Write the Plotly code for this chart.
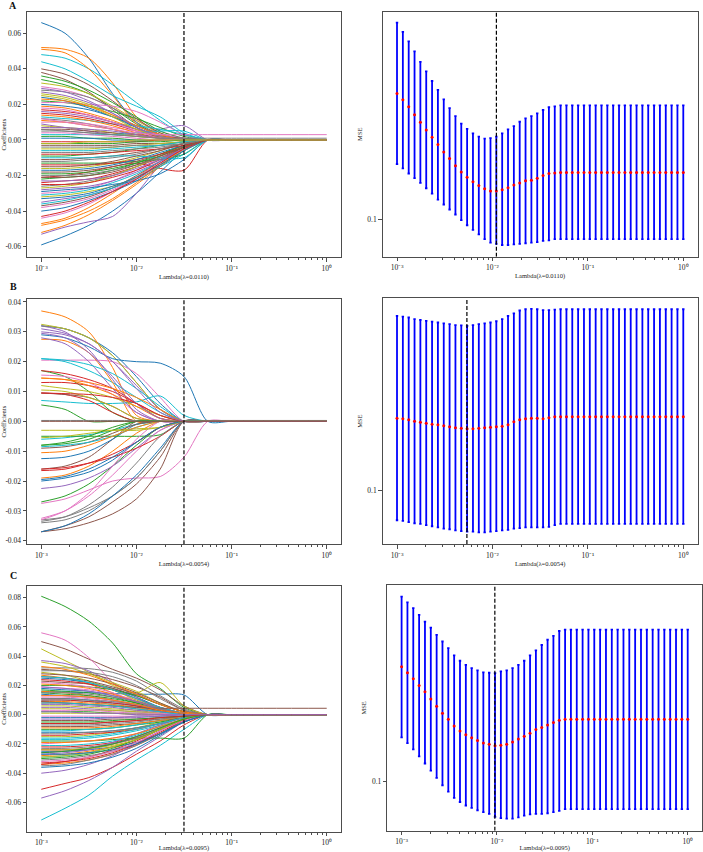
import plotly.graph_objects as go

# ---------------- data ----------------
# lambda grid of the coefficient paths (left panels)
coef_lambda = [0.001, 0.001778, 0.003162, 0.005623, 0.01, 0.01778, 0.03162, 0.05623, 0.1, 1.0]

# coefficient paths, values in units of 1e-3, one row per feature
coef_A = [
    [66, 60, 46, 26, 10, 2, 0, 0, 0, 0],
    [52, 51, 46, 32, 13, 3, 0, 0, 0, 0],
    [34, 31, 26, 18, 9, 3, 0, 0, 0, 0],
    [-21, -20, -18, -15, -13, -16, -17, 0, 0, 0],
    [9, 7, 5, 3, 3, 6, 8, 0, 0, 0],
    [38, 34, 27, 17, 7, 1, 0, 0, 0, 0],
    [30, 28, 24, 18, 11, 5, 1, 0, 0, 0],
    [28, 27, 24, 18, 10, 3, 0, 0, 0, 0],
    [32, 30, 26, 19, 11, 4, 0, 0, 0, 0],
    [48, 46, 40, 31, 21, 11, 3, 0, 0, 0],
    [-59, -54, -48, -40, -30, -18, -6, 0, 0, 0],
    [51, 49, 40, 25, 9, 2, 0, 0, 0, 0],
    [22, 21, 19, 16, 12, 7, 2, 0, 0, 0],
    [-24, -23, -22, -19, -15, -10, -4, 0, 0, 0],
    [-53, -49, -46, -43, -30, -14, -3, 0, 0, 0],
    [40, 37, 31, 22, 12, 4, 0, 0, 0, 0],
    [21, 21, 20, 19, 16, 10, 3, 0, 0, 0],
    [-26, -25, -23, -20, -15, -9, -3, 0, 0, 0],
    [26, 24, 20, 14, 7, 2, 0, 0, 0, 0],
    [44, 40, 33, 25, 19, 13, 4, 0, 0, 0],
    [20, 19, 17, 13, 8, 3, 0, 0, 0, 0],
    [-47, -44, -38, -30, -21, -12, -4, 0, 0, 0],
    [36, 33, 28, 21, 13, 5, 1, 0, 0, 0],
    [17, 16, 14, 10, 6, 2, 0, 0, 0, 0],
    [-35, -33, -31, -27, -21, -13, -5, 0, 0, 0],
    [-37, -35, -32, -27, -20, -12, -4, 0, 0, 0],
    [-30, -29, -27, -23, -17, -10, -3, 0, 0, 0],
    [12, 11, 9, 6, 3, 1, 0, 0, 0, 0],
    [-27, -26, -24, -20, -15, -9, -3, 0, 0, 0],
    [13, 12, 11, 9, 8, 6, 3, 0, 0, 0],
    [-40, -38, -34, -29, -23, -15, -6, 0, 0, 0],
    [-52, -48, -42, -34, -25, -15, -5, 0, 0, 0],
    [-13, -13, -13, -13, -12, -11, -8, 0, 0, 0],
    [15, 14, 12, 9, 5, 2, 0, 0, 0, 0],
    [27, 25, 21, 15, 8, 3, 0, 0, 0, 0],
    [-18, -18, -17, -15, -12, -8, -3, 0, 0, 0],
    [-44, -41, -36, -29, -21, -13, -5, 0, 0, 0],
    [5, 5, 4, 3, 2, 1, 0, 0, 0, 0],
    [-16, -16, -15, -13, -10, -6, -2, 0, 0, 0],
    [-36, -34, -31, -27, -22, -15, -8, 0, 0, 0],
    [24, 22, 18, 13, 7, 2, 0, 0, 0, 0],
    [19, 18, 15, 11, 6, 2, 0, 0, 0, 0],
    [-22, -21, -20, -17, -13, -8, -3, 0, 0, 0],
    [-25, -25, -24, -21, -17, -11, -4, 0, 0, 0],
    [16, 15, 13, 10, 6, 3, 1, 0, 0, 0],
    [-11, -11, -10, -9, -7, -5, -2, 0, 0, 0],
    [10, 10, 9, 7, 5, 3, 1, 0, 0, 0],
    [-20, -20, -19, -17, -14, -10, -5, 0, 0, 0],
    [8, 7, 6, 4, 2, 1, 0, 0, 0, 0],
    [-31, -30, -28, -24, -19, -12, -5, 0, 0, 0],
    [-29, -28, -27, -25, -23, -19, -11, 0, 0, 0],
    [14, 13, 11, 8, 4, 1, 0, 0, 0, 0],
    [-9, -9, -8, -7, -5, -3, -1, 0, 0, 0],
    [-14, -14, -14, -13, -11, -8, -4, 0, 0, 0],
    [-23, -23, -22, -20, -16, -11, -5, 0, 0, 0],
    [6, 6, 5, 4, 3, 2, 1, 0, 0, 0],
    [-38, -36, -33, -28, -22, -14, -6, 0, 0, 0],
    [-7, -7, -7, -6, -5, -4, -2, 0, 0, 0],
    [-32, -31, -29, -26, -21, -14, -6, 0, 0, 0],
    [3, 3, 3, 3, 4, 5, 5, 0, 0, 0],
    [-17, -17, -16, -14, -11, -7, -3, 0, 0, 0],
    [-48, -45, -40, -33, -24, -14, -5, 0, 0, 0],
    [2, 2, 1, 1, 0, 0, 0, 0, 0, 0],
    [-8, -8, -8, -7, -6, -5, -3, 0, 0, 0],
    [-28, -27, -26, -23, -18, -12, -5, 0, 0, 0],
    [-3, -3, -3, -3, -2, -2, -1, 0, 0, 0],
    [18, 17, 14, 10, 5, 1, 0, 0, 0, 0],
    [-12, -12, -11, -10, -8, -5, -2, 0, 0, 0],
    [-5, -5, -5, -4, -3, -2, -1, 0, 0, 0],
    [-10, -10, -10, -9, -9, -10, -10, 0, 0, 0],
    [1, 1, 1, 0, 0, 0, 0, 0, 0, 0],
    [11, 10, 8, 6, 3, 1, 0, 0, 0, 0],
    [-19, -19, -18, -16, -13, -9, -4, 0, 0, 0],
    [-1, -1, -1, -1, -1, 0, 0, 0, 0, 0],
    [7, 7, 6, 5, 3, 1, 0, 0, 0, 0],
    [-15, -15, -14, -12, -9, -6, -2, 0, 0, 0],
    [4, 4, 3, 2, 1, 0, 0, 0, 0, 0],
    [-4, -4, -4, -4, -3, -3, -2, 0, 0, 0],
    [25, 23, 19, 13, 6, 2, 0, 0, 0, 0],
    [-6, -6, -6, -5, -4, -3, -1, 0, 0, 0],
    [-33, -32, -30, -26, -21, -14, -6, 0, 0, 0],
    [23, 22, 19, 14, 8, 3, 0, 0, 0, 0],
    [-2, -2, -2, -2, -1, -1, 0, 0, 0, 0],
    [-43, -40, -35, -29, -22, -13, -5, 0, 0, 0],
    [29, 27, 22, 15, 7, 2, 0, 0, 0, 0],
    [-21, -21, -20, -18, -14, -9, -4, 0, 0, 0],
    [12, 10, 8, 6, 4, 3, 3, 3, 3, 3],
    [6, 5, 4, 3, 2, 1, 1, 1, 1, 1],
    [-2, -2, -1, -1, 0, 0, 0, 0, 0, 0],
]

coef_B = [
    [32, 31, 28, 23, 15, 6, 0, 0, 0, 0],
    [37, 35, 30, 18, 2, 0, 0, 0, 0, 0],
    [17, 15, 10, 3, 0, 0, 0, 0, 0, 0],
    [17, 16, 14, 11, 6, 1, 0, 0, 0, 0],
    [32, 30, 24, 14, 4, 0, 0, 0, 0, 0],
    [-37, -35, -32, -27, -21, -12, 0, 0, 0, 0],
    [20.5, 20.5, 20.5, 20, 16, 8, 0, 0, 0, 0],
    [32, 31, 28, 22, 13, 4, 0, 0, 0, 0],
    [32.5, 31, 28, 22, 13, 4, 0, 0, 0, 0],
    [21, 20, 17, 13, 8, 3, 0, 0, 0, 0],
    [29, 28, 25, 21, 20, 19.5, 15, 0, 0, 0],
    [27.5, 27, 23, 13, 0, 0, 0, 0, 0, 0],
    [5.5, 4, 0, 0, 0, 0, 0, 0, 0, 0],
    [13, 13, 12, 10, 6, 2, 0, 0, 0, 0],
    [30, 29, 26, 20, 12, 4, 0, 0, 0, 0],
    [-16, -15, -12, -6, 0, 0, 0, 0, 0, 0],
    [15.5, 15, 13, 9, 3, 0, 0, 0, 0, 0],
    [-33, -32, -29, -25, -19, -10, 0, 0, 0, 0],
    [12, 11, 10, 8, 5, 2, 0, 0, 0, 0],
    [7, 6.5, 6, 6, 6.5, 8.5, 2, 0, 0, 0],
    [-12.5, -12, -10, -6, -1, 0, 0, 0, 0, 0],
    [14.5, 14, 12, 9, 5, 1, 0, 0, 0, 0],
    [-27, -25, -21, -15, -8, -2, 0, 0, 0, 0],
    [9.5, 9, 7, 3, 0, 0, 0, 0, 0, 0],
    [-22.5, -21.5, -19, -15, -9, -3, 0, 0, 0, 0],
    [9.5, 9, 8, 5, 1, 0, 0, 0, 0, 0],
    [-27.5, -26, -23, -20, -19, -18.5, -12, 0, 0, 0],
    [-34, -33, -30, -25, -19, -10, 0, 0, 0, 0],
    [10.5, 10, 8, 5, 1, 0, 0, 0, 0, 0],
    [-6, -5.5, -4.5, -3, -1, 0, 0, 0, 0, 0],
    [-20, -19, -17, -13, -7, -2, 0, 0, 0, 0],
    [-19, -18, -15, -10, -4, 0, 0, 0, 0, 0],
    [-5, -5, -5, -5, -5, -4.5, 0, 0, 0, 0],
    [-16.5, -16, -14, -11, -7, -2, 0, 0, 0, 0],
    [28, 26, 20, 11, 3, 0, 0, 0, 0, 0],
    [-37, -36, -34, -31, -26, -16, 0, 0, 0, 0],
    [-32.5, -30, -25, -18, -10, -3, 0, 0, 0, 0],
    [0.3, 0.3, 0.3, 0.3, 0.3, 0.3, 0.3, 0.3, 0.3, 0.3],
    [-5.5, -5, -4, -3, -2.5, -2, 0, 0, 0, 0],
    [21, 20.5, 19, 16, 11, 5, 0, 0, 0, 0],
    [-37, -35, -31, -25, -18, -9, 0, 0, 0, 0],
    [14.5, 14, 13, 11, 8, 4, 0, 0, 0, 0],
    [-8, -7.5, -6, -3, 0, 0, 0, 0, 0, 0],
    [-16, -15.5, -14, -12, -9, -5, 0, 0, 0, 0],
    [29.5, 28, 23, 15, 6, 1, 0, 0, 0, 0],
    [-9, -8.5, -7, -4, -1, 0, 0, 0, 0, 0],
    [-33, -30, -24, -15, -6, 0, 0, 0, 0, 0],
    [-33.5, -32, -28, -22, -14, -5, 0, 0, 0, 0],
    [-3, -3, -3, -3, -3, -2, 0, 0, 0, 0],
    [-8.5, -8, -7, -5, -2, 0, 0, 0, 0, 0],
    [-19.5, -18.5, -16, -12, -7, -2, 0, 0, 0, 0],
    [-10.5, -10, -8, -5, -2, 0, 0, 0, 0, 0],
    [-8, -7, -5, -2, 0, 0, 0, 0, 0, 0],
    [9.5, 9.3, 9, 8, 6, 2, 0, 0, 0, 0],
    [31, 29.5, 26, 20, 11, 3, 0, 0, 0, 0],
    [0, 0, 0, 0, 0, 0, 0, 0, 0, 0],
]

coef_C = [
    [16, 15.5, 15, 14.5, 14, 14, 13.5, 0, 0, 0],
    [27, 25, 21, 15, 8, 2, 0, 0, 0, 0],
    [81, 74, 64, 49, 28, 18, 5, 0, 0, 0],
    [-51, -47, -43, -36, -27, -18, -7, 0, 0, 0],
    [-57, -52, -45, -36, -25, -15, -5, 0, 0, 0],
    [50, 45, 38, 31, 25, 17, 6, 0, 0, 0],
    [56, 51, 39, 22, 8, 2, 0, 0, 0, 0],
    [32, 32, 31.5, 29, 23, 13, 4, 0, 0, 0],
    [45, 37, 29, 20, 15, 22, 6, 0, 0, 0],
    [-72, -64, -55, -42, -31, -21, -10, 0, 0, 0],
    [25, 24, 22, 18, 12, 5, 0, 0, 0, 0],
    [-34, -33, -31, -27, -21, -13, -4, 0, 0, 0],
    [-18, -18, -18, -17, -16, -16, -16, 0, 0, 0],
    [-34, -32, -29, -24, -18, -10, -3, 0, 0, 0],
    [37, 35, 30, 22, 12, 4, 0, 0, 0, 0],
    [23, 22, 21, 18, 13, 7, 2, 0, 0, 0],
    [19, 18, 17, 14, 10, 5, 1, 0, 0, 0],
    [-35, -34, -31, -27, -21, -13, -4, 0, 0, 0],
    [29, 27, 23, 17, 10, 4, 0, 0, 0, 0],
    [-29, -28, -26, -22, -17, -10, -3, 0, 0, 0],
    [-25, -25, -24, -22, -19, -13, -5, 0, 0, 0],
    [16, 15, 13, 10, 6, 2, 0, 0, 0, 0],
    [20, 20, 19, 17, 13, 7, 2, 0, 0, 0],
    [-22, -22, -21, -19, -15, -9, -3, 0, 0, 0],
    [-40, -38, -34, -28, -20, -11, -3, 0, 0, 0],
    [31, 30, 28, 24, 19, 12, 3, 0, 0, 0],
    [12, 12, 11, 9, 6, 3, 1, 0, 0, 0],
    [-31, -30, -28, -25, -20, -13, -5, 0, 0, 0],
    [36, 33, 28, 22, 16, 8, 2, 0, 0, 0],
    [-17, -17, -16, -14, -11, -7, -2, 0, 0, 0],
    [14, 13, 12, 10, 7, 3, 1, 0, 0, 0],
    [-28, -27, -25, -22, -17, -10, -3, 0, 0, 0],
    [17, 16, 15, 12, 8, 4, 1, 0, 0, 0],
    [-24, -24, -23, -20, -16, -10, -4, 0, 0, 0],
    [-27, -26, -24, -20, -15, -9, -3, 0, 0, 0],
    [26, 25, 23, 19, 14, 7, 2, 0, 0, 0],
    [-20, -19, -18, -16, -13, -8, -3, 0, 0, 0],
    [30, 30, 29, 26, 20, 11, 3, 0, 0, 0],
    [-15, -15, -14, -12, -9, -5, -1, 0, 0, 0],
    [10, 10, 9, 7, 5, 3, 1, 0, 0, 0],
    [-12, -12, -12, -11, -9, -6, -2, 0, 0, 0],
    [9, 9, 8, 7, 5, 2, 0, 0, 0, 0],
    [-10, -10, -10, -9, -7, -5, -2, 0, 0, 0],
    [8, 8, 7, 6, 4, 2, 0, 0, 0, 0],
    [-26, -25, -23, -19, -13, -7, -2, 0, 0, 0],
    [-8, -8, -8, -7, -6, -4, -2, 0, 0, 0],
    [22, 21, 19, 15, 9, 4, 1, 0, 0, 0],
    [-23, -23, -22, -20, -16, -10, -4, 0, 0, 0],
    [6, 6, 5, 4, 3, 1, 0, 0, 0, 0],
    [-21, -21, -20, -18, -14, -8, -3, 0, 0, 0],
    [11, 11, 10, 8, 6, 3, 1, 0, 0, 0],
    [-19, -19, -18, -16, -13, -8, -3, 0, 0, 0],
    [15, 14, 13, 11, 8, 4, 1, 0, 0, 0],
    [-14, -14, -13, -12, -10, -6, -2, 0, 0, 0],
    [5, 5, 4, 3, 2, 1, 0, 0, 0, 0],
    [-6, -6, -6, -5, -4, -3, -1, 0, 0, 0],
    [13, 13, 12, 10, 7, 4, 1, 0, 0, 0],
    [-13, -13, -12, -11, -9, -6, -2, 0, 0, 0],
    [4, 4, 3, 3, 2, 1, 0, 0, 0, 0],
    [-11, -11, -10, -9, -7, -4, -1, 0, 0, 0],
    [18, 17, 16, 13, 9, 4, 1, 0, 0, 0],
    [-9, -9, -9, -8, -6, -4, -1, 0, 0, 0],
    [2, 2, 2, 1, 1, 0, 0, 0, 0, 0],
    [-33, -32, -30, -26, -20, -12, -4, 0, 0, 0],
    [7, 7, 6, 5, 3, 2, 0, 0, 0, 0],
    [-4, -4, -4, -3, -3, -2, -1, 0, 0, 0],
    [3, 3, 3, 2, 1, 1, 0, 0, 0, 0],
    [-7, -7, -7, -6, -5, -3, -1, 0, 0, 0],
    [1, 1, 1, 1, 0, 0, 0, 0, 0, 0],
    [-16, -16, -15, -13, -10, -6, -2, 0, 0, 0],
    [-2, -2, -2, -2, -1, -1, 0, 0, 0, 0],
    [21, 20, 18, 14, 9, 4, 1, 0, 0, 0],
    [-5, -5, -5, -4, -3, -2, -1, 0, 0, 0],
    [24, 23, 21, 17, 11, 5, 1, 0, 0, 0],
    [-3, -3, -3, -2, -2, -1, 0, 0, 0, 0],
    [28, 27, 25, 21, 15, 8, 2, 0, 0, 0],
    [-1, -1, -1, -1, -1, 0, 0, 0, 0, 0],
    [15, 15, 14, 12, 9, 5, 1, 0, 0, 0],
    [-29, -28, -26, -22, -17, -10, -3, 0, 0, 0],
    [26, 25, 22, 17, 11, 5, 1, 0, 0, 0],
    [-27, -27, -26, -24, -20, -13, -5, 0, 0, 0],
    [33, 31, 27, 21, 14, 7, 2, 0, 0, 0],
    [-30, -29, -27, -23, -17, -10, -3, 0, 0, 0],
    [10, 10, 9, 8, 6, 3, 1, 0, 0, 0],
    [19, 18, 16, 13, 9, 4, 1, 0, 0, 0],
    [9, 8, 7, 6, 5, 4.4, 4.4, 4.4, 4.4, 4.4],
    [-32, -31, -29, -25, -19, -11, -4, 0, 0, 0],
    [11, 11, 10, 9, 7, 4, 1, 0, 0, 0],
    [-24, -24, -23, -21, -17, -10, -3, 0, 0, 0],
    [8, 8, 7, 6, 4, 2, 0, 0, 0, 0],
    [-36, -35, -33, -29, -23, -14, -5, 0, 0, 0],
    [13, 13, 12, 10, 7, 3, 1, 0, 0, 0],
    [-26, -25, -23, -20, -15, -9, -3, 0, 0, 0],
    [-6, -6, -6, -5, -4, -2, -1, 0, 0, 0],
    [2, 2, 1, 1, 0, 0, 0, 0, 0, 0],
]

# cross-validation lambda grid (right panels)
cv_lambda = [0.001, 0.0011514, 0.0013257, 0.0015264, 0.0017575, 0.0020236, 0.0023300,
             0.0026827, 0.0030888, 0.0035565, 0.0040949, 0.0047149, 0.0054287, 0.0062506,
             0.0071969, 0.0082864, 0.0095410, 0.010985, 0.012649, 0.014563, 0.016768,
             0.019307, 0.022230, 0.025595, 0.029471, 0.033932, 0.039069, 0.044984,
             0.051795, 0.059636, 0.068665, 0.079060, 0.091030, 0.10481, 0.12068, 0.13895,
             0.15999, 0.18421, 0.21210, 0.24421, 0.28118, 0.32375, 0.37276, 0.42919,
             0.49417, 0.56899, 0.65513, 0.75431, 0.86851, 1.0]

mse_A = [0.1249, 0.1235, 0.1220, 0.1203, 0.1187, 0.1171, 0.1156, 0.1141, 0.1126, 0.1113,
         0.1099, 0.1087, 0.1077, 0.1068, 0.1061, 0.1055, 0.1051, 0.1051, 0.1053, 0.1057,
         0.1062, 0.1066, 0.1070, 0.1071, 0.1075, 0.1080, 0.1084, 0.1085, 0.1086, 0.1086,
         0.1086, 0.1086, 0.1086, 0.1086, 0.1086, 0.1086, 0.1086, 0.1086, 0.1086, 0.1086,
         0.1086, 0.1086, 0.1086, 0.1086, 0.1086, 0.1086, 0.1086, 0.1086, 0.1086, 0.1086]
mse_A_upper = [0.1416, 0.1393, 0.1370, 0.1346, 0.1321, 0.1299, 0.1277, 0.1257, 0.1236, 0.1217,
               0.1200, 0.1184, 0.1173, 0.1164, 0.1157, 0.1153, 0.1154, 0.1157, 0.1164, 0.1172,
               0.1179, 0.1188, 0.1195, 0.1200, 0.1206, 0.1213, 0.1219, 0.1221, 0.1223, 0.1223,
               0.1223, 0.1223, 0.1223, 0.1223, 0.1223, 0.1223, 0.1223, 0.1223, 0.1223, 0.1223,
               0.1223, 0.1223, 0.1223, 0.1223, 0.1223, 0.1223, 0.1223, 0.1223, 0.1223, 0.1223]
mse_A_lower = [0.1102, 0.1094, 0.1084, 0.1075, 0.1066, 0.1056, 0.1046, 0.1035, 0.1026, 0.1017,
               0.1008, 0.0998, 0.0989, 0.0981, 0.0973, 0.0965, 0.0959, 0.0957, 0.0955, 0.0955,
               0.0956, 0.0957, 0.0958, 0.0959, 0.0960, 0.0962, 0.0963, 0.0965, 0.0965, 0.0965,
               0.0965, 0.0965, 0.0965, 0.0965, 0.0965, 0.0965, 0.0965, 0.0965, 0.0965, 0.0965,
               0.0965, 0.0965, 0.0965, 0.0965, 0.0965, 0.0965, 0.0965, 0.0965, 0.0965, 0.0965]

mse_B = [0.1137, 0.1136, 0.1134, 0.1131, 0.1129, 0.1127, 0.1125, 0.1124, 0.1122, 0.1120,
         0.1118, 0.1117, 0.1116, 0.1116, 0.1117, 0.1118, 0.1119, 0.1120, 0.1121, 0.1124,
         0.1130, 0.1134, 0.1136, 0.1137, 0.1137, 0.1136, 0.1138, 0.1140, 0.1140, 0.1140,
         0.1140, 0.1140, 0.1140, 0.1140, 0.1140, 0.1140, 0.1140, 0.1140, 0.1140, 0.1140,
         0.1140, 0.1140, 0.1140, 0.1140, 0.1140, 0.1140, 0.1140, 0.1140, 0.1140, 0.1140]
mse_B_upper = [0.1363, 0.1361, 0.1359, 0.1355, 0.1353, 0.1351, 0.1349, 0.1347, 0.1345, 0.1343,
               0.1341, 0.1340, 0.1339, 0.1341, 0.1343, 0.1345, 0.1347, 0.1350, 0.1355, 0.1363,
               0.1369, 0.1376, 0.1379, 0.1380, 0.1379, 0.1377, 0.1377, 0.1378, 0.1379, 0.1379,
               0.1379, 0.1379, 0.1379, 0.1379, 0.1379, 0.1379, 0.1379, 0.1379, 0.1379, 0.1379,
               0.1379, 0.1379, 0.1379, 0.1379, 0.1379, 0.1379, 0.1379, 0.1379, 0.1379, 0.1379]
mse_B_lower = [0.0949, 0.0948, 0.0946, 0.0944, 0.0943, 0.0941, 0.0939, 0.0937, 0.0935, 0.0934,
               0.0932, 0.0931, 0.0930, 0.0930, 0.0929, 0.0929, 0.0930, 0.0931, 0.0932, 0.0933,
               0.0935, 0.0936, 0.0937, 0.0937, 0.0937, 0.0937, 0.0938, 0.0941, 0.0943, 0.0943,
               0.0943, 0.0943, 0.0943, 0.0943, 0.0943, 0.0943, 0.0943, 0.0943, 0.0943, 0.0943,
               0.0943, 0.0943, 0.0943, 0.0943, 0.0943, 0.0943, 0.0943, 0.0943, 0.0943, 0.0943]

mse_C = [0.1225, 0.1212, 0.1199, 0.1185, 0.1172, 0.1157, 0.1142, 0.1128, 0.1116, 0.1103,
         0.1093, 0.1086, 0.1080, 0.1075, 0.1070, 0.1068, 0.1065, 0.1066, 0.1068, 0.1072,
         0.1078, 0.1083, 0.1089, 0.1096, 0.1100, 0.1105, 0.1110, 0.1114, 0.1116, 0.1116,
         0.1116, 0.1116, 0.1116, 0.1116, 0.1116, 0.1116, 0.1116, 0.1116, 0.1116, 0.1116,
         0.1116, 0.1116, 0.1116, 0.1116, 0.1116, 0.1116, 0.1116, 0.1116, 0.1116, 0.1116]
mse_C_upper = [0.1387, 0.1373, 0.1359, 0.1343, 0.1327, 0.1313, 0.1296, 0.1281, 0.1266, 0.1250,
               0.1238, 0.1229, 0.1222, 0.1217, 0.1213, 0.1212, 0.1211, 0.1215, 0.1217, 0.1222,
               0.1229, 0.1238, 0.1250, 0.1261, 0.1273, 0.1285, 0.1294, 0.1305, 0.1308, 0.1308,
               0.1308, 0.1308, 0.1308, 0.1308, 0.1308, 0.1308, 0.1308, 0.1308, 0.1308, 0.1308,
               0.1308, 0.1308, 0.1308, 0.1308, 0.1308, 0.1308, 0.1308, 0.1308, 0.1308, 0.1308]
mse_C_lower = [0.1081, 0.1070, 0.1058, 0.1045, 0.1032, 0.1019, 0.1006, 0.0993, 0.0982, 0.0971,
               0.0964, 0.0958, 0.0954, 0.0950, 0.0947, 0.0944, 0.0939, 0.0937, 0.0936, 0.0936,
               0.0938, 0.0941, 0.0943, 0.0944, 0.0944, 0.0945, 0.0947, 0.0949, 0.0952, 0.0952,
               0.0952, 0.0952, 0.0952, 0.0952, 0.0952, 0.0952, 0.0952, 0.0952, 0.0952, 0.0952,
               0.0952, 0.0952, 0.0952, 0.0952, 0.0952, 0.0952, 0.0952, 0.0952, 0.0952, 0.0952]

best_lambda = [0.0110, 0.0054, 0.0095]       # chosen lambda (right panels & labels)
best_lambda_text = ["0.0110", "0.0054", "0.0095"]
coef_cut_lambda = [0.0316, 0.0316, 0.0316]   # dashed line position in left panels
panel_letters = ["A", "B", "C"]

coef_ticks = [
    [-0.06, -0.04, -0.02, 0.0, 0.02, 0.04, 0.06],
    [-0.04, -0.03, -0.02, -0.01, 0.0, 0.01, 0.02, 0.03, 0.04],
    [-0.06, -0.04, -0.02, 0.0, 0.02, 0.04, 0.06, 0.08],
]
coef_tick_text = [
    ["-0.06", "-0.04", "-0.02", "0.00", "0.02", "0.04", "0.06"],
    ["-0.04", "-0.03", "-0.02", "-0.01", "0.00", "0.01", "0.02", "0.03", "0.04"],
    ["-0.06", "-0.04", "-0.02", "0.00", "0.02", "0.04", "0.06", "0.08"],
]
x_tick_vals = [0.001, 0.01, 0.1, 1]
x_tick_text = ["10\u207b\u00b3", "10\u207b\u00b2", "10\u207b\u00b9", "10\u2070"]

# ---------------- layout geometry (pixels) ----------------
W, H = 703, 852
TAB10 = ['#1f77b4', '#ff7f0e', '#2ca02c', '#d62728', '#9467bd',
         '#8c564b', '#e377c2', '#7f7f7f', '#bcbd22', '#17becf']
FONT = "Liberation Serif"
AXC = "#4d4d4d"

# (left, right, top, bottom) in pixels
left_boxes = [(27, 341, 12.3, 257), (27, 341, 299, 544.3), (27, 341, 586, 831.7)]
right_boxes = [(382.7, 697.6, 11.7, 256.7), (382.7, 697.6, 298.3, 544), (387.3, 702, 585, 830.7)]
left_yrange = [[-0.0658, 0.0718], [-0.0412, 0.0410], [-0.0800, 0.0880]]
right_yrange = [[-1.0290, -0.8405], [-1.0410, -0.8520], [-1.0380, -0.8490]]
letter_y = [5, 286, 575]

coefs = [coef_A, coef_B, coef_C]
mses = [(mse_A, mse_A_upper, mse_A_lower), (mse_B, mse_B_upper, mse_B_lower),
        (mse_C, mse_C_upper, mse_C_lower)]

for arr in coefs:
    for row in arr:
        assert len(row) == len(coef_lambda), row
for trip in mses:
    for a in trip:
        assert len(a) == len(cv_lambda), len(a)

minor_x = [m * 10.0 ** e for e in (-3, -2, -1) for m in range(2, 10)]

fig = go.Figure()
layout = {}


def dom_x(l, r):
    return [l / W, r / W]


def dom_y(t, b):
    return [1 - b / H, 1 - t / H]


def axis_common():
    return dict(showline=True, mirror=True, linecolor=AXC, linewidth=1,
                ticks="outside", ticklen=3.5, tickwidth=1, tickcolor=AXC,
                showgrid=False, zeroline=False, automargin=False,
                tickfont=dict(family=FONT, size=7.5, color="#222"))


def x_axis(l, r, ya, p):
    xd = axis_common()
    xd.update(domain=dom_x(l, r), anchor=ya, type="log", range=[-3.15, 0.15],
              tickmode="array", tickvals=x_tick_vals, ticktext=x_tick_text,
              tickfont=dict(family=FONT, size=7.5, color="#222"),
              minor=dict(tickmode="array", tickvals=minor_x, ticks="outside",
                         ticklen=2, tickcolor=AXC, showgrid=False),
              title=dict(text=f"Lambda(λ={best_lambda_text[p]})",
                         font=dict(family=FONT, size=6.5, color="#222"), standoff=2))
    return xd


for p in range(3):
    # ----- left: coefficient paths -----
    ax = 2 * p + 1
    xa, ya = f"x{ax}", f"y{ax}"
    for i, row in enumerate(coefs[p]):
        fig.add_trace(go.Scatter(
            x=coef_lambda, y=[v / 1000 for v in row], mode="lines",
            line=dict(color=TAB10[i % 10], width=1, shape="spline", smoothing=0.8),
            xaxis=xa, yaxis=ya, showlegend=False, hoverinfo="skip"))
    fig.add_trace(go.Scatter(
        x=[coef_cut_lambda[p], coef_cut_lambda[p]], y=left_yrange[p], mode="lines",
        line=dict(color="black", width=1.2, dash="4px,2px"),
        xaxis=xa, yaxis=ya, showlegend=False, hoverinfo="skip"))
    l, r, t, b = left_boxes[p]
    yd = axis_common()
    yd.update(domain=dom_y(t, b), anchor=xa, range=left_yrange[p],
              tickmode="array", tickvals=coef_ticks[p], ticktext=coef_tick_text[p],
              title=dict(text="Coefficients", font=dict(family=FONT, size=6.5, color="#222"),
                         standoff=2))
    layout["xaxis" if ax == 1 else f"xaxis{ax}"] = x_axis(l, r, ya, p)
    layout["yaxis" if ax == 1 else f"yaxis{ax}"] = yd

    # ----- right: CV MSE with error bars -----
    ax = 2 * p + 2
    xa, ya = f"x{ax}", f"y{ax}"
    m, up, lo = mses[p]
    fig.add_trace(go.Scatter(
        x=cv_lambda, y=m, mode="markers",
        marker=dict(color="red", size=3),
        error_y=dict(type="data", symmetric=False,
                     array=[u - v for u, v in zip(up, m)],
                     arrayminus=[v - w for v, w in zip(m, lo)],
                     color="#0000ff", thickness=1.8, width=1.2),
        xaxis=xa, yaxis=ya, showlegend=False, hoverinfo="skip"))
    fig.add_trace(go.Scatter(
        x=[best_lambda[p], best_lambda[p]],
        y=[10 ** right_yrange[p][0], 10 ** right_yrange[p][1]], mode="lines",
        line=dict(color="black", width=1.2, dash="4px,2px"),
        xaxis=xa, yaxis=ya, showlegend=False, hoverinfo="skip"))
    l, r, t, b = right_boxes[p]
    yd = axis_common()
    yd.update(domain=dom_y(t, b), anchor=xa, type="log", range=right_yrange[p],
              tickmode="array", tickvals=[0.1], ticktext=["0.1"],
              title=dict(text="MSE", font=dict(family=FONT, size=6.5, color="#222"),
                         standoff=4))
    layout[f"xaxis{ax}"] = x_axis(l, r, ya, p)
    layout[f"yaxis{ax}"] = yd

annotations = []
for p in range(3):
    annotations.append(dict(text=f"<b>{panel_letters[p]}</b>", x=13 / W, y=1 - letter_y[p] / H,
                            xref="paper", yref="paper", xanchor="center", yanchor="middle",
                            showarrow=False, font=dict(family=FONT, size=10, color="#111")))

fig.update_layout(width=W, height=H, margin=dict(l=0, r=0, t=0, b=0),
                  paper_bgcolor="white", plot_bgcolor="white",
                  annotations=annotations, **layout)
fig.write_html("out.html")
